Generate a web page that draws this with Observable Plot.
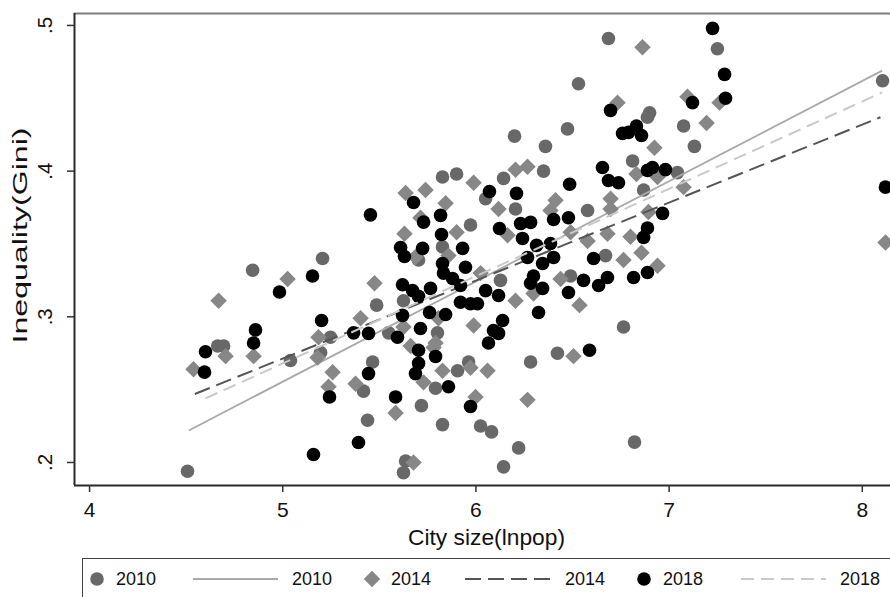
<!DOCTYPE html>
<html>
<head>
<meta charset="utf-8">
<script src="https://cdn.jsdelivr.net/npm/d3@7"></script>
<script src="https://cdn.jsdelivr.net/npm/@observablehq/plot@0.6"></script>
<style>
  html, body { margin: 0; padding: 0; background: #fff; }
  #wrap { position: relative; width: 890px; height: 597px; overflow: hidden; background: #fff;
          font-family: "Liberation Sans", Arial, Helvetica, sans-serif; }
  #legend { position: absolute; left: 82px; top: 558px; width: 840px; height: 46px;
            border: 1.5px solid #444; box-sizing: border-box; }
  .lg { position: absolute; font-size: 18px; color: #111; line-height: 1; }
</style>
</head>
<body>
<div id="wrap"><div id="chart"></div><div id="legend"></div></div>
<script>
// ---- data ----
const x2010 = [4.507,4.663,4.694,4.844,5.040,5.206,5.247,5.196,5.418,5.465,5.486,5.439,5.636,5.625,5.718,5.827,5.827,5.900,5.703,5.827,5.625,5.548,5.801,6.143,6.350,6.050,6.205,6.578,5.972,6.127,6.490,6.422,6.764,6.283,6.024,6.081,6.143,6.221,5.905,5.962,5.791,6.200,6.360,6.686,7.250,6.531,6.474,6.899,6.888,7.075,7.131,6.811,7.043,6.868,8.105,6.671,6.821];
const y2010 = [0.194,0.280,0.280,0.332,0.270,0.340,0.286,0.2755,0.249,0.269,0.308,0.229,0.201,0.193,0.239,0.226,0.396,0.398,0.339,0.348,0.311,0.289,0.289,0.395,0.400,0.381,0.374,0.373,0.363,0.325,0.328,0.275,0.293,0.269,0.225,0.221,0.197,0.210,0.263,0.269,0.251,0.424,0.417,0.491,0.484,0.460,0.429,0.440,0.437,0.431,0.417,0.407,0.399,0.387,0.462,0.342,0.214];

const x2014 = [4.538,4.704,4.668,4.849,5.025,5.185,5.180,5.403,5.258,5.237,5.377,5.475,5.625,5.584,5.677,5.729,5.636,5.739,5.843,5.713,5.630,5.687,5.791,5.662,5.781,5.827,5.972,6.060,5.998,6.267,6.505,6.536,6.298,5.806,5.988,5.900,6.164,6.490,6.578,6.681,6.412,6.386,6.697,6.117,5.988,6.205,6.267,6.697,6.800,6.857,6.940,6.893,6.831,6.940,7.075,6.924,6.733,6.862,7.095,7.194,7.261,8.120,5.858,6.024,6.205,6.438,6.764];
const y2014 = [0.264,0.273,0.311,0.273,0.326,0.286,0.272,0.299,0.262,0.252,0.254,0.323,0.293,0.234,0.200,0.255,0.385,0.387,0.378,0.368,0.357,0.341,0.282,0.280,0.279,0.263,0.265,0.263,0.245,0.243,0.273,0.308,0.316,0.299,0.294,0.358,0.356,0.358,0.352,0.357,0.380,0.373,0.381,0.374,0.392,0.401,0.403,0.374,0.355,0.344,0.335,0.372,0.398,0.396,0.389,0.416,0.447,0.485,0.451,0.433,0.447,0.351,0.342,0.330,0.311,0.326,0.339];

const x2018 = [4.595,4.600,4.983,4.859,4.849,5.154,5.201,5.367,5.444,5.444,5.242,5.392,5.159,5.454,5.584,5.594,5.620,5.620,5.672,5.703,5.765,5.677,5.729,5.817,5.822,5.610,5.630,5.724,5.827,5.832,5.713,5.703,5.791,5.703,5.687,5.760,5.843,5.858,6.070,6.210,6.122,6.231,6.283,6.241,5.931,6.314,6.386,6.267,6.402,6.345,6.609,5.946,5.879,6.298,6.283,5.920,6.557,6.635,6.681,6.050,6.117,6.345,6.479,5.920,5.972,6.008,6.324,6.138,6.091,6.117,6.065,6.588,5.972,6.402,6.479,6.485,6.655,6.686,6.738,6.697,6.759,6.790,6.831,6.857,6.888,6.914,6.981,6.966,6.888,6.868,6.888,6.816,7.225,7.287,7.292,7.121,8.120];
const y2018 = [0.262,0.276,0.317,0.291,0.282,0.328,0.2975,0.289,0.2886,0.261,0.245,0.2137,0.2055,0.370,0.245,0.286,0.301,0.322,0.318,0.314,0.3195,0.3785,0.365,0.3696,0.3565,0.3476,0.3414,0.347,0.3366,0.330,0.292,0.277,0.2728,0.268,0.261,0.303,0.3016,0.252,0.386,0.3847,0.3606,0.364,0.3648,0.3538,0.347,0.349,0.3503,0.3407,0.3407,0.3366,0.340,0.334,0.3263,0.328,0.323,0.3215,0.325,0.3215,0.327,0.318,0.3146,0.3195,0.3167,0.310,0.309,0.309,0.303,0.2975,0.2906,0.2886,0.282,0.277,0.2384,0.3668,0.368,0.391,0.4025,0.3936,0.392,0.4417,0.4259,0.4266,0.431,0.4245,0.4005,0.4025,0.401,0.371,0.361,0.3545,0.3304,0.327,0.498,0.4664,0.450,0.447,0.389];

// fitted lines (end points)
const fitYears = [2010, 2014, 2018];
const fitX0 = [4.514, 4.545, 4.600];
const fitY0 = [0.222, 0.247, 0.244];
const fitX1 = [8.103, 8.094, 8.103];
const fitY1 = [0.469, 0.437, 0.454];

const xTicks = [4, 5, 6, 7, 8];
const yTicks = [0.2, 0.3, 0.4, 0.5];
const xDomain = [3.922, 8.146];
const yDomain = [0.1842, 0.5082];
const xTitle = "City size(lnpop)";
const yTitle = "Inequality(Gini)";
const legendLabels = ["2010", "2010", "2014", "2014", "2018", "2018"];

// ---- build tables ----
const pts = (xs, ys) => xs.map((x, i) => ({x, y: ys[i]}));
const d2010 = pts(x2010, y2010), d2014 = pts(x2014, y2014), d2018 = pts(x2018, y2018);
const fits = fitYears.map((yr, i) => ({yr, x0: fitX0[i], y0: fitY0[i], x1: fitX1[i], y1: fitY1[i]}));
const fitOf = yr => fits.filter(f => f.yr === yr);
const fmtY = d => String(d).replace(/^0/, "");

const FONT = '"Liberation Sans", Arial, Helvetica, sans-serif';
const chart = Plot.plot({
  width: 890, height: 552,
  marginLeft: 74, marginRight: 0, marginTop: 13, marginBottom: 67,
  x: {domain: xDomain},
  y: {domain: yDomain},
  style: {fontFamily: FONT, background: "#fff", color: "#333", overflow: "hidden"},
  marks: [
    Plot.ruleY([yDomain[1]], {stroke: "#7d7d7d", strokeWidth: 2}),
    Plot.dot(d2010, {x: "x", y: "y", r: 6.8, fill: "#686868", symbol: "circle"}),
    Plot.link(fitOf(2010), {x1: "x0", y1: "y0", x2: "x1", y2: "y1", stroke: "#a9a9a9", strokeWidth: 1.8}),
    Plot.dot(d2014, {x: "x", y: "y", r: 7.4, fill: "#878787", symbol: "diamond2"}),
    Plot.link(fitOf(2014), {x1: "x0", y1: "y0", x2: "x1", y2: "y1", stroke: "#555", strokeWidth: 2, strokeDasharray: "16,7"}),
    Plot.dot(d2018, {x: "x", y: "y", r: 6.8, fill: "#000", symbol: "circle"}),
    Plot.link(fitOf(2018), {x1: "x0", y1: "y0", x2: "x1", y2: "y1", stroke: "#c9c9c9", strokeWidth: 2, strokeDasharray: "13,7"}),
    Plot.ruleX([xDomain[0]], {stroke: "#2a2a2a", strokeWidth: 2}),
    Plot.ruleY([yDomain[0]], {stroke: "#2a2a2a", strokeWidth: 2}),
    Plot.axisX({ticks: xTicks, tickSize: 7, tickFormat: () => "", label: null, strokeWidth: 1.5}),
    Plot.axisY({ticks: yTicks, tickSize: 7, tickFormat: () => "", label: null, strokeWidth: 1.5}),
    Plot.text(xTicks, {x: d => d, text: d => String(d), frameAnchor: "bottom", dy: 25, lineAnchor: "middle", fontSize: 21, fill: "#111"}),
    Plot.text(yTicks, {y: d => d, text: fmtY, frameAnchor: "left", dx: -29, rotate: -90, textAnchor: "middle", lineAnchor: "middle", fontSize: 20.5, fill: "#111"}),
    Plot.text([xTitle], {text: d => d, frameAnchor: "bottom", dx: 4, dy: 52, lineAnchor: "middle", fontSize: 22, fill: "#111", className: "xtitle"}),
    Plot.text([yTitle], {text: d => d, frameAnchor: "left", dx: -54, dy: -14, rotate: -90, textAnchor: "middle", lineAnchor: "middle", fontSize: 20.5, fill: "#111", className: "ytitle"})
  ]
});
document.getElementById("chart").appendChild(chart);
// stretch the titles to the lengths seen in the reference
for (const [cls, len] of [["xtitle", 157], ["ytitle", 216]]) {
  const t = chart.querySelector(`.${cls} text`);
  if (t) { t.setAttribute("textLength", len); t.setAttribute("lengthAdjust", "spacingAndGlyphs"); }
}

// ---- legend ----
const lg = document.getElementById("legend");
const L = 82, T = 558, cy = 579;
const ns = "http://www.w3.org/2000/svg";
const sv = document.createElementNS(ns, "svg");
sv.setAttribute("width", 840); sv.setAttribute("height", 46);
sv.style.position = "absolute"; sv.style.left = "-1.5px"; sv.style.top = "-1.5px";
function el(tag, attrs) { const e = document.createElementNS(ns, tag); for (const k in attrs) e.setAttribute(k, attrs[k]); sv.appendChild(e); return e; }
const ly = cy - T;
el("circle", {cx: 97 - L, cy: ly, r: 6.8, fill: "#686868"});
el("line", {x1: 193 - L, x2: 278 - L, y1: ly, y2: ly, stroke: "#a9a9a9", "stroke-width": 1.8});
el("path", {d: d3.symbol(d3.symbolDiamond2, Math.PI * 7.4 * 7.4)(), transform: `translate(${372 - L},${ly})`, fill: "#878787"});
el("line", {x1: 465 - L, x2: 553 - L, y1: ly, y2: ly, stroke: "#555", "stroke-width": 2, "stroke-dasharray": "16,7"});
el("circle", {cx: 644 - L, cy: ly, r: 6.8, fill: "#000"});
el("line", {x1: 741 - L, x2: 826 - L, y1: ly, y2: ly, stroke: "#c9c9c9", "stroke-width": 2, "stroke-dasharray": "13,7"});
lg.appendChild(sv);
const textX = [115, 291, 390, 564, 662, 839];
legendLabels.forEach((t, i) => {
  const s = document.createElement("div");
  s.className = "lg"; s.textContent = t;
  s.style.left = (textX[i] - L) + "px"; s.style.top = (cy - T - 10) + "px";
  lg.appendChild(s);
});
</script>
</body>
</html>
